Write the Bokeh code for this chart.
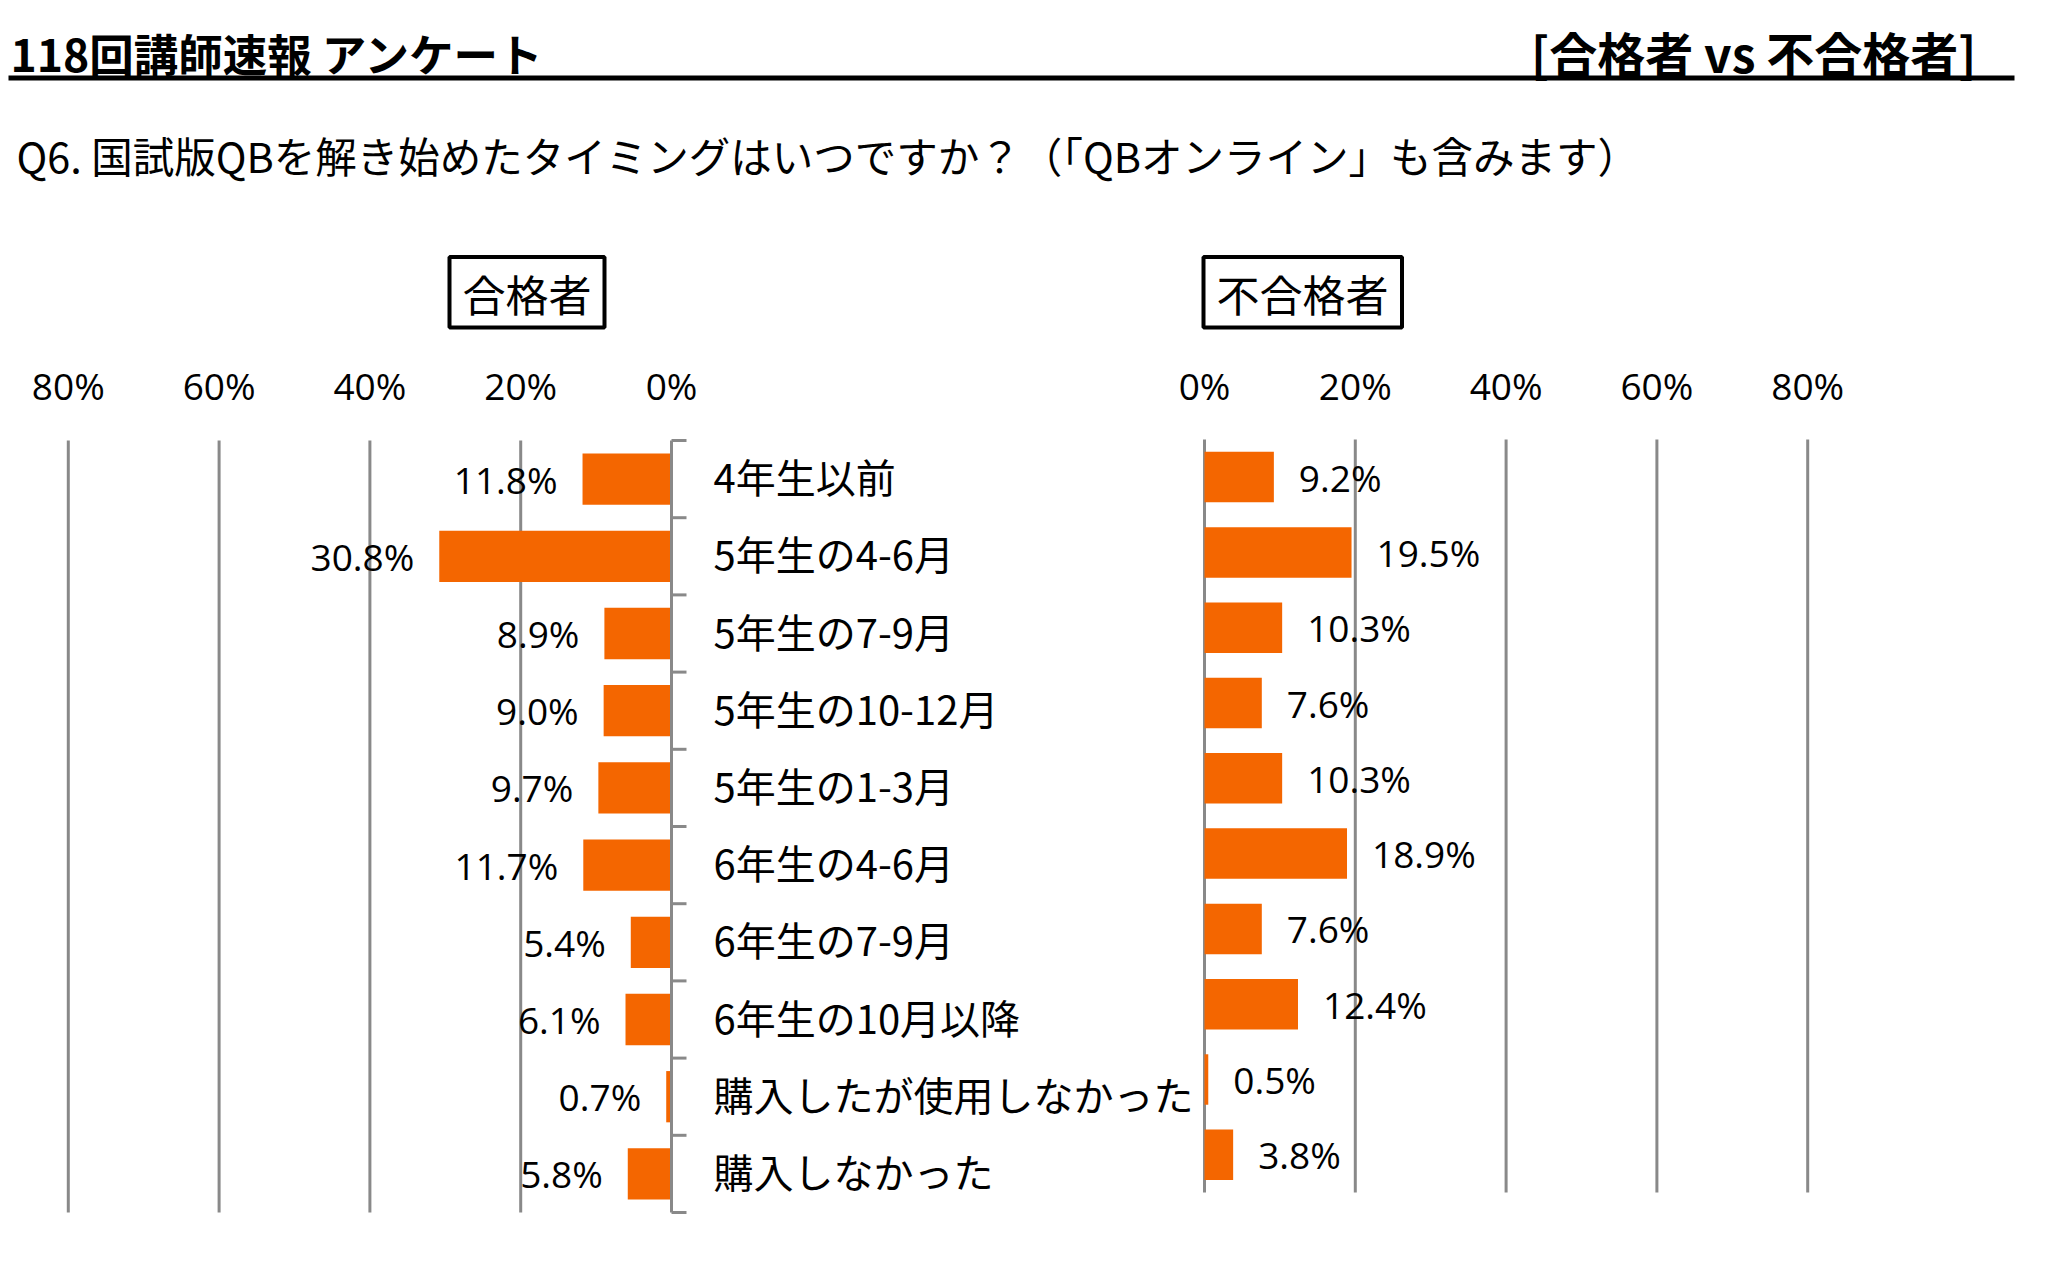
from bokeh.plotting import figure
from bokeh.models import Range1d
from bokeh.embed import file_html
from bokeh.resources import INLINE
from bokeh.core.properties import value

# ---------------- data ----------------
categories = ["4年生以前", "5年生の4-6月", "5年生の7-9月", "5年生の10-12月", "5年生の1-3月",
              "6年生の4-6月", "6年生の7-9月", "6年生の10月以降", "購入したが使用しなかった", "購入しなかった"]
passed = [11.8, 30.8, 8.9, 9.0, 9.7, 11.7, 5.4, 6.1, 0.7, 5.8]
failed = [9.2, 19.5, 10.3, 7.6, 10.3, 18.9, 7.6, 12.4, 0.5, 3.8]
axis_ticks = [0, 20, 40, 60, 80]
tick_labels = ["0%", "20%", "40%", "60%", "80%"]
header_title = "118回講師速報 アンケート"
header_right = "[合格者 vs 不合格者]"
question = "Q6.  国試版QBを解き始めたタイミングはいつですか？（「QBオンライン」も含みます）"
panel_titles = ["合格者", "不合格者"]

# ---------------- layout ----------------
W, H = 2066, 1270
ORANGE = "#F46600"
GREY = "#898989"
JP = value("Noto Sans CJK JP")
NUM = value("Open Sans")

n = len(categories)
idx = list(range(n))

# category centre pixel / band height for each panel
L_c0, L_band = 478.6, 77.2
R_c0, R_band = 476.6, 75.3
PX_PER_PCT = 7.54
L_zero, R_zero = 671.0, 1204.0

p = figure(width=W, height=H, output_backend="svg", toolbar_location=None,
           x_range=Range1d(0, W),
           y_range=Range1d(start=(H - L_c0) / L_band, end=-L_c0 / L_band),
           x_axis_location=None, y_axis_location=None,
           min_border=0, outline_line_color=None)
p.grid.grid_line_color = None
p.background_fill_color = "white"
p.border_fill_color = "white"

p.extra_y_ranges = {
    "right": Range1d(start=(H - R_c0) / R_band, end=-R_c0 / R_band),
    "page": Range1d(start=H, end=0),
}
p.extra_x_ranges = {
    "left": Range1d(start=L_zero / PX_PER_PCT, end=(L_zero - W) / PX_PER_PCT),
    "right": Range1d(start=-R_zero / PX_PER_PCT, end=(W - R_zero) / PX_PER_PCT),
}

# ---------------- header ----------------
p.text(x=[10], y=[51.5], text=[header_title], y_range_name="page",
       text_font=JP, text_font_style="bold", text_font_size="44.5px",
       text_align="left", text_baseline="middle", text_color="black")
p.text(x=[1976], y=[51.5], text=[header_right], y_range_name="page",
       text_font=JP, text_font_style="bold", text_font_size="48px",
       text_align="right", text_baseline="middle", text_color="black")
p.segment(x0=[8], x1=[2014], y0=[77.5], y1=[77.5], y_range_name="page",
          line_color="black", line_width=5)
p.text(x=[16], y=[154], text=[question], y_range_name="page",
       text_font=JP, text_font_size="41.5px",
       text_align="left", text_baseline="middle", text_color="black")

# ---------------- panel title boxes ----------------
p.quad(left=[449, 1203], right=[604, 1401.5], top=[256.5, 256.5], bottom=[327, 327],
       y_range_name="page", fill_color=None, line_color="black", line_width=4)
p.text(x=[526.5, 1302], y=[292.5, 292.5], text=panel_titles, y_range_name="page",
       text_font=JP, text_font_size="43px", text_align="center",
       text_baseline="middle", text_color="black")

# ---------------- tick labels ----------------
p.text(x=axis_ticks, y=[385] * len(axis_ticks), text=tick_labels,
       x_range_name="left", y_range_name="page",
       text_font=NUM, text_font_size="37px", text_align="center",
       text_baseline="middle", text_color="black")
p.text(x=axis_ticks, y=[385] * len(axis_ticks), text=tick_labels,
       x_range_name="right", y_range_name="page",
       text_font=NUM, text_font_size="37px", text_align="center",
       text_baseline="middle", text_color="black")

# ---------------- grid lines ----------------
gx = axis_ticks[1:]
p.segment(x0=gx, x1=gx, y0=[-0.5] * len(gx), y1=[n - 0.5] * len(gx),
          x_range_name="left", line_color=GREY, line_width=3)
p.segment(x0=axis_ticks, x1=axis_ticks, y0=[-0.5] * len(axis_ticks),
          y1=[n - 0.5] * len(axis_ticks),
          x_range_name="right", y_range_name="right", line_color=GREY, line_width=3)

# ---------------- bars ----------------
p.hbar(y=idx, left=0, right=passed, height=0.664, x_range_name="left",
       fill_color=ORANGE, line_color=None)
p.hbar(y=idx, left=0, right=failed, height=0.67, x_range_name="right",
       y_range_name="right", fill_color=ORANGE, line_color=None)

# left category axis (bracket with ticks)
bounds = [i - 0.5 for i in range(n + 1)]
tick_len = 15 / PX_PER_PCT
p.segment(x0=[0], x1=[0], y0=[-0.5], y1=[n - 0.5], x_range_name="left",
          line_color=GREY, line_width=3)
p.segment(x0=[0] * len(bounds), x1=[-tick_len] * len(bounds), y0=bounds, y1=bounds,
          x_range_name="left", line_color=GREY, line_width=3)

# ---------------- value labels ----------------
p.text(x=passed, y=idx, text=[f"{v:.1f}%" for v in passed], x_range_name="left",
       x_offset=-25, text_align="right", text_baseline="middle",
       text_font=NUM, text_font_size="37px", text_color="black")
p.text(x=failed, y=idx, text=[f"{v:.1f}%" for v in failed], x_range_name="right",
       y_range_name="right", x_offset=25, text_align="left", text_baseline="middle",
       text_font=NUM, text_font_size="37px", text_color="black")

# ---------------- category labels ----------------
p.text(x=[713] * n, y=idx, text=categories, text_align="left", text_baseline="middle",
       y_offset=-3, text_font=JP, text_font_size="40px", text_color="black")

open("out.html", "w").write(file_html(p, INLINE))
